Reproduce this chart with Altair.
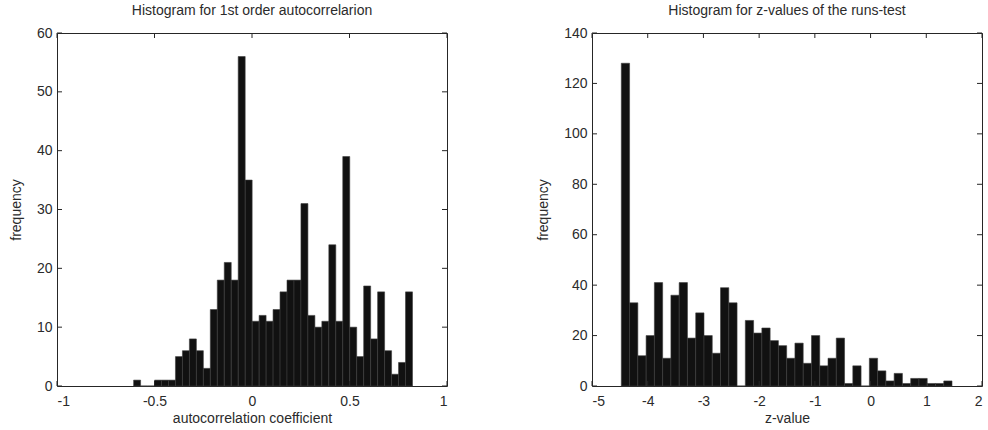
import altair as alt
import pandas as pd

# ---- data ----
left_counts = [1, 0, 0, 1, 1, 1, 5, 6, 8, 6, 3, 13, 18, 21, 18, 56, 35, 11, 12, 11,
               13, 16, 18, 18, 31, 12, 10, 11, 24, 11, 39, 10, 5, 17, 8, 16, 6, 2, 4, 16]
left_bin_start = -0.607
left_bin_width = 0.03575

right_counts = [128, 33, 12, 20, 41, 11, 36, 41, 19, 29, 20, 13, 39, 33, 0, 26, 21, 23, 18, 16,
                11, 17, 9, 20, 8, 11, 19, 1, 8, 0, 11, 6, 2, 5, 1, 3, 3, 1, 1, 2]
right_bin_start = -4.474
right_bin_width = 0.1484

left_xticks = [-1, -0.5, 0, 0.5, 1]
left_yticks = [0, 10, 20, 30, 40, 50, 60]
right_xticks = [-5, -4, -3, -2, -1, 0, 1, 2]
right_yticks = [0, 20, 40, 60, 80, 100, 120, 140]

left_title = "Histogram for 1st order autocorrelarion"
right_title = "Histogram for z-values of the runs-test"
left_xlabel = "autocorrelation coefficient"
right_xlabel = "z-value"
ylabel = "frequency"

W, H = 390, 353
FONT = "Liberation Sans"
TXT = "#2b2b2b"
LINE = "#262626"
TL = 5  # inward tick length


def panel(counts, start, width, xdom, ydom, xt, yt, title, xtitle):
    lo = [start + i * width for i in range(len(counts))]
    df = pd.DataFrame({"lo": lo, "hi": [v + width for v in lo], "count": counts})
    xs = alt.Scale(domain=xdom, nice=False, zero=False)
    ys = alt.Scale(domain=ydom, nice=False)
    xax = alt.Axis(values=xt, title=xtitle, labelExpr="toString(datum.value)",
                   labelPadding=8, titlePadding=3)
    yax = alt.Axis(values=yt, title=ylabel, labelPadding=5, titlePadding=13)
    bars = alt.Chart(df).mark_rect(fill="#111111", stroke="#3c3c3c", strokeWidth=0.6).encode(
        x=alt.X("lo:Q", scale=xs, axis=xax),
        x2="hi:Q",
        y=alt.Y("count:Q", scale=ys, axis=yax),
        y2=alt.datum(0),
    )
    xdf = pd.DataFrame({"v": xt})
    ydf = pd.DataFrame({"v": yt})
    bt = alt.Chart(xdf).mark_rule(color=LINE, strokeWidth=1).encode(
        x=alt.X("v:Q", scale=xs, axis=xax), y=alt.value(H), y2=alt.value(H - TL))
    tt = alt.Chart(xdf).mark_rule(color=LINE, strokeWidth=1).encode(
        x=alt.X("v:Q", scale=xs, axis=xax), y=alt.value(0), y2=alt.value(TL))
    lt = alt.Chart(ydf).mark_rule(color=LINE, strokeWidth=1).encode(
        y=alt.Y("v:Q", scale=ys, axis=yax), x=alt.value(0), x2=alt.value(TL))
    rt = alt.Chart(ydf).mark_rule(color=LINE, strokeWidth=1).encode(
        y=alt.Y("v:Q", scale=ys, axis=yax), x=alt.value(W), x2=alt.value(W - TL))
    return alt.layer(bars, bt, tt, lt, rt).properties(
        width=W, height=H,
        title=alt.Title(title, font=FONT, fontSize=14, fontWeight="normal", color=TXT,
                        offset=8, anchor="middle", frame="group"),
    )


left = panel(left_counts, left_bin_start, left_bin_width, [-1, 1], [0, 60],
             left_xticks, left_yticks, left_title, left_xlabel)
right = panel(right_counts, right_bin_start, right_bin_width, [-5, 2], [0, 140],
              right_xticks, right_yticks, right_title, right_xlabel)

chart = alt.hconcat(left, right, spacing=145, bounds="flush").properties(
    padding={"left": 8, "top": 3, "right": 5, "bottom": 2},
    background="white",
).configure_view(
    stroke=LINE, strokeWidth=1
).configure_axis(
    domain=False, ticks=False, tickSize=0, grid=False,
    labelFont=FONT, labelFontSize=14, labelColor=TXT,
    titleFont=FONT, titleFontSize=14, titleFontWeight="normal", titleColor=TXT,
)

chart.save("out.html", embed_options={"renderer": "svg", "actions": False})
